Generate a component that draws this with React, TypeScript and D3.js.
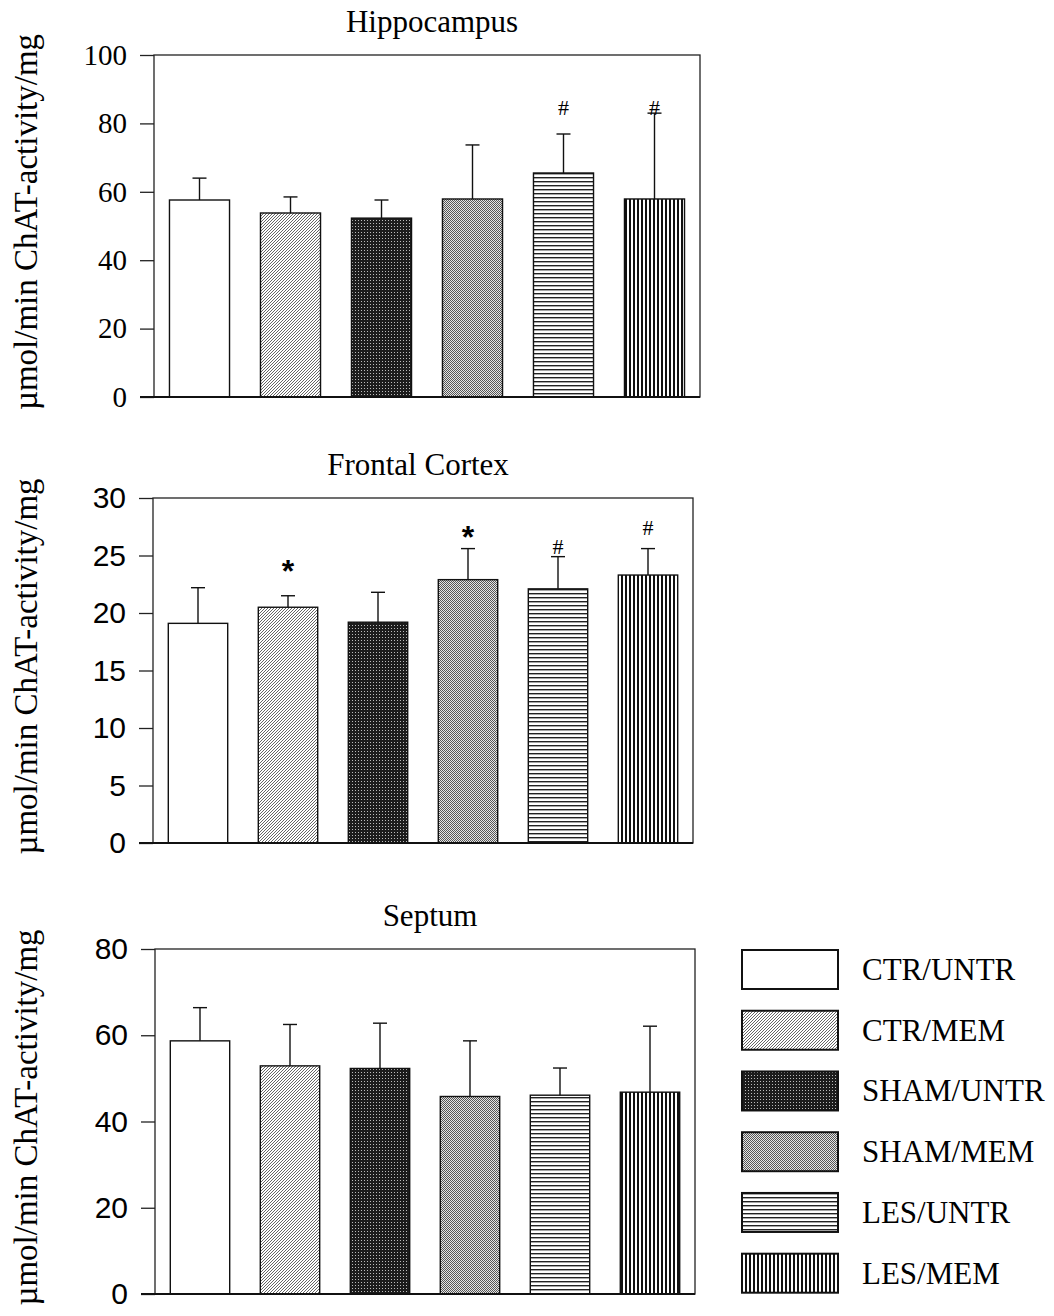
import * as d3 from "d3";
import React, { useEffect, useRef } from "react";

// groups / legend entries
const groups = ["CTR/UNTR", "CTR/MEM", "SHAM/UNTR", "SHAM/MEM", "LES/UNTR", "LES/MEM"];

// Hippocampus
const hippoMean = [57.6, 53.8, 52.3, 57.9, 65.5, 57.9];
const hippoSem = [6.4, 4.7, 5.3, 15.8, 11.4, 25.1];
const hippoMarks = ["", "", "", "", "#", "#"];
const hippoMarkAt = [0, 0, 0, 0, 84.5, 84.5];
const hippoTicks = [0, 20, 40, 60, 80, 100];

// Frontal Cortex
const frontalMean = [19.1, 20.5, 19.2, 22.9, 22.1, 23.3];
const frontalSem = [3.1, 1.0, 2.6, 2.7, 2.8, 2.3];
const frontalMarks = ["", "*", "", "*", "#", "#"];
const frontalMarkAt = [0, 24.4, 0, 27.3, 25.8, 27.4];
const frontalTicks = [0, 5, 10, 15, 20, 25, 30];

// Septum
const septumMean = [58.7, 52.9, 52.3, 45.8, 46.1, 46.8];
const septumSem = [7.7, 9.6, 10.5, 12.9, 6.3, 15.3];
const septumMarks = ["", "", "", "", "", ""];
const septumMarkAt = [0, 0, 0, 0, 0, 0];
const septumTicks = [0, 20, 40, 60, 80];

const yLabel = "µmol/min ChAT-activity/mg";
const SERIF = "'Liberation Serif', 'Times New Roman', serif";
const SANS = "'Liberation Sans', Arial, sans-serif";

export default function App() {
  const ref = useRef<SVGSVGElement | null>(null);

  useEffect(() => {
    const svg = d3.select(ref.current);
    svg.selectAll("*").remove();

    const width = 1054;
    const height = 1316;
    svg.attr("width", width).attr("height", height).attr("viewBox", `0 0 ${width} ${height}`);

    // fill patterns
    const defs = svg.append("defs");
    const mk = (id: string, w: number, h: number) =>
      defs
        .append("pattern")
        .attr("id", id)
        .attr("patternUnits", "userSpaceOnUse")
        .attr("width", w)
        .attr("height", h);

    mk("p0", 4, 4).append("rect").attr("width", 4).attr("height", 4).attr("fill", "#fff");

    const p1 = mk("p1", 3, 3);
    p1.append("rect").attr("width", 3).attr("height", 3).attr("fill", "#fff");
    p1.append("path")
      .attr("d", "M0,3 L3,0 M-1,1 L1,-1 M2,4 L4,2")
      .attr("stroke", "#555")
      .attr("stroke-width", 0.9);

    const p2 = mk("p2", 3, 3);
    p2.append("rect").attr("width", 3).attr("height", 3).attr("fill", "#1c1c1c");
    p2.append("rect").attr("x", 1).attr("y", 1).attr("width", 1).attr("height", 1).attr("fill", "#bbb");

    const p3 = mk("p3", 2, 2);
    p3.append("rect").attr("width", 2).attr("height", 2).attr("fill", "#e4e4e4");
    p3.append("rect").attr("width", 1).attr("height", 1).attr("fill", "#555");
    p3.append("rect").attr("x", 1).attr("y", 1).attr("width", 1).attr("height", 1).attr("fill", "#555");

    const p4 = mk("p4", 4, 4);
    p4.append("rect").attr("width", 4).attr("height", 4).attr("fill", "#fff");
    p4.append("rect").attr("y", 1).attr("width", 4).attr("height", 1.4).attr("fill", "#222");

    const p5 = mk("p5", 4, 4);
    p5.append("rect").attr("width", 4).attr("height", 4).attr("fill", "#fff");
    p5.append("rect").attr("x", 1).attr("width", 2).attr("height", 4).attr("fill", "#111");

    const fills = groups.map((_, i) => `url(#p${i})`);

    const panels = [
      {
        title: "Hippocampus", mean: hippoMean, sem: hippoSem, marks: hippoMarks, markAt: hippoMarkAt,
        ticks: hippoTicks, tickFont: SERIF, tickSize: 29, titleX: 432,
        left: 154, right: 700, top: 55, bottom: 397,
      },
      {
        title: "Frontal Cortex", mean: frontalMean, sem: frontalSem, marks: frontalMarks, markAt: frontalMarkAt,
        ticks: frontalTicks, tickFont: SANS, tickSize: 30, titleX: 418,
        left: 153, right: 693, top: 498, bottom: 843,
      },
      {
        title: "Septum", mean: septumMean, sem: septumSem, marks: septumMarks, markAt: septumMarkAt,
        ticks: septumTicks, tickFont: SANS, tickSize: 30, titleX: 430,
        left: 155, right: 695, top: 949, bottom: 1294,
      },
    ];

    panels.forEach((p) => {
      const g = svg.append("g");
      const x = d3
        .scaleBand()
        .domain(groups)
        .range([p.left, p.right])
        .paddingInner(0.34)
        .paddingOuter(0.17);
      const y = d3
        .scaleLinear()
        .domain([0, d3.max(p.ticks) ?? 0])
        .range([p.bottom, p.top]);

      // frame
      g.append("rect")
        .attr("x", p.left)
        .attr("y", p.top)
        .attr("width", p.right - p.left)
        .attr("height", p.bottom - p.top)
        .attr("fill", "none")
        .attr("stroke", "#222")
        .attr("stroke-width", 1.3);

      // bars
      g.selectAll("rect.bar")
        .data(groups)
        .enter()
        .append("rect")
        .attr("class", "bar")
        .attr("x", (d) => x(d)!)
        .attr("y", (_, i) => y(p.mean[i]))
        .attr("width", x.bandwidth())
        .attr("height", (_, i) => y(0) - y(p.mean[i]))
        .attr("fill", (_, i) => fills[i])
        .attr("stroke", "#111")
        .attr("stroke-width", 1.4);

      // error bars (upper only)
      groups.forEach((gName, i) => {
        const cx = x(gName)! + x.bandwidth() / 2;
        const y0 = y(p.mean[i]);
        const y1 = y(p.mean[i] + p.sem[i]);
        g.append("line")
          .attr("x1", cx).attr("x2", cx).attr("y1", y0).attr("y2", y1)
          .attr("stroke", "#111").attr("stroke-width", 1.4);
        g.append("line")
          .attr("x1", cx - 7).attr("x2", cx + 7).attr("y1", y1).attr("y2", y1)
          .attr("stroke", "#111").attr("stroke-width", 1.4);

        const m = p.marks[i];
        if (m) {
          const star = m === "*";
          const fs = star ? 32 : 22;
          g.append("text")
            .attr("x", cx)
            .attr("y", y(p.markAt[i]) + (star ? 0.6 : 0.34) * fs)
            .attr("text-anchor", "middle")
            .attr("font-family", star ? SANS : SERIF)
            .attr("font-weight", star ? "bold" : "normal")
            .attr("font-size", fs)
            .text(m);
        }
      });

      // y axis
      const ax = g
        .append("g")
        .attr("transform", `translate(${p.left},0)`)
        .call(d3.axisLeft(y).tickValues(p.ticks).tickSize(14).tickPadding(13));
      ax.select(".domain").remove();
      ax.selectAll(".tick line").attr("stroke", "#222").attr("stroke-width", 1.3);
      ax.selectAll(".tick text")
        .attr("font-family", p.tickFont)
        .attr("font-size", p.tickSize)
        .attr("fill", "#000");

      // bottom axis line
      g.append("line")
        .attr("x1", p.left - 14)
        .attr("x2", p.right)
        .attr("y1", p.bottom)
        .attr("y2", p.bottom)
        .attr("stroke", "#111")
        .attr("stroke-width", 2);

      // title
      g.append("text")
        .attr("x", p.titleX)
        .attr("y", p.top - 23)
        .attr("text-anchor", "middle")
        .attr("font-family", SERIF)
        .attr("font-size", 31)
        .text(p.title);

      // y label
      g.append("text")
        .attr("transform", `translate(37,${(p.top + p.bottom) / 2 - 4}) rotate(-90)`)
        .attr("text-anchor", "middle")
        .attr("font-family", SERIF)
        .attr("font-size", 33)
        .text(yLabel);
    });

    // legend
    const lg = svg.append("g");
    const ly = d3
      .scaleBand()
      .domain(groups)
      .range([950, 950 + 57.5 * 6])
      .paddingInner(0.32)
      .paddingOuter(0);
    groups.forEach((gName, i) => {
      lg.append("rect")
        .attr("x", 742)
        .attr("y", ly(gName)!)
        .attr("width", 96)
        .attr("height", 39)
        .attr("fill", fills[i])
        .attr("stroke", "#111")
        .attr("stroke-width", 2);
      lg.append("text")
        .attr("x", 862)
        .attr("y", ly(gName)! + 30)
        .attr("font-family", SERIF)
        .attr("font-size", 31)
        .text(gName);
    });
  }, []);

  return <svg ref={ref} style={{ position: "absolute", left: 0, top: 0 }} />;
}
